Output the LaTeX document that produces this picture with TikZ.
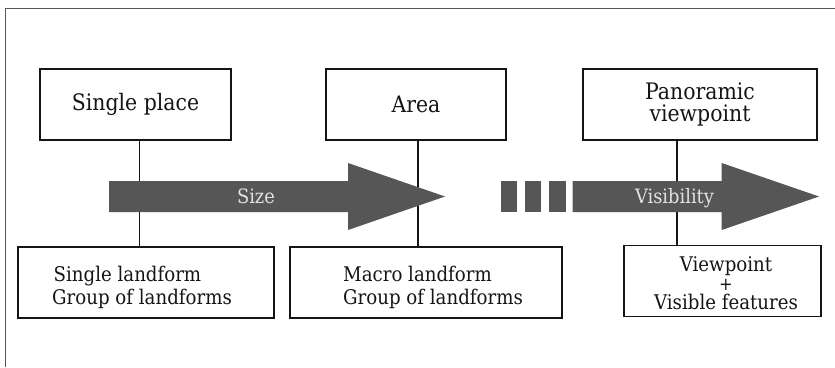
\documentclass[tikz,border=0pt]{standalone}
\usepackage{fontspec}
\setmainfont{DejaVu Serif Condensed}
\usetikzlibrary{calc}
\definecolor{arrowgray}{HTML}{565656}
\definecolor{inktext}{HTML}{151515}
\definecolor{lighttext}{HTML}{E2E2E2}
\begin{document}
\begin{tikzpicture}[x=1pt,y=-1pt,
  box/.style={draw=inktext, line width=1.3pt, minimum height=71pt, inner sep=0pt, text=inktext},
  bigtxt/.style={font=\fontsize{22.7}{21.5}\selectfont},
  smalltxt/.style={font=\fontsize{20.2}{23}\selectfont, text=inktext, inner sep=0pt},
  conn/.style={draw=inktext, line width=1.3pt},
  arr/.style={fill=arrowgray, draw=none},
  arrlabel/.style={font=\fontsize{19.8}{22}\selectfont, text=lighttext, inner sep=0pt, anchor=base}]
\useasboundingbox (0,0) rectangle (835,367);
\fill[white] (0,0) rectangle (835,367);
% frame
\draw[gray!70!black, line width=1pt] (5,367) -- (5,8) -- (835,8);

% top boxes
\node[box, bigtxt, minimum width=191pt] (sp) at (135.5,104.5) {Single place};
\node[box, bigtxt, minimum width=180pt] (ar) at (416,104.5) {Area};
\node[box, bigtxt, minimum width=234pt, align=center] (pv) at (700,104.5) {Panoramic\\viewpoint};

% bottom boxes
\node[box, minimum width=256pt] (b1) at (146,282.5) {};
\node[box, minimum width=272pt] (b2) at (426,282.5) {};
\node[box, minimum width=197pt] (b3) at (722.5,281) {};

% bottom texts
\node[smalltxt, align=left, anchor=west] (t1) at (52,287) {\hspace*{1.5pt}Single landform\\Group of landforms};
\node[smalltxt, align=left, anchor=west] (t2) at (343,287) {Macro landform\\Group of landforms};
\node[smalltxt, align=center, font=\fontsize{20.2}{19}\selectfont] (t3) at (726,283) {Viewpoint\\{\fontsize{18}{19}\selectfont +}\\Visible features};

% connectors
\coordinate (c1) at (139.5,140);
\coordinate (c2) at (418,140);
\coordinate (c3) at (677,140);
\draw[conn] (c1) -- (c1 |- b1.north);
\draw[conn] (c2) -- (c2 |- b2.north);
\draw[conn] (c3) -- (c3 |- b3.north);

% arrows
\fill[arr] (109,181) -- (348,181) -- (348,163) -- (445,196.5) -- (348,230) -- (348,212) -- (109,212) -- cycle;
\fill[arr] (500.7,181) rectangle (516.7,212);
\fill[arr] (525,181) rectangle (541,212);
\fill[arr] (549,181) rectangle (566,212);
\fill[arr] (572.7,181) -- (721.7,181) -- (721.7,163) -- (819,196.5) -- (721.7,230) -- (721.7,212) -- (572.7,212) -- cycle;

\node[arrlabel] (sz) at (256,203.3) {Size};
\node[arrlabel] (vs) at (674.5,203.3) {Visibility};
\end{tikzpicture}
\end{document}
